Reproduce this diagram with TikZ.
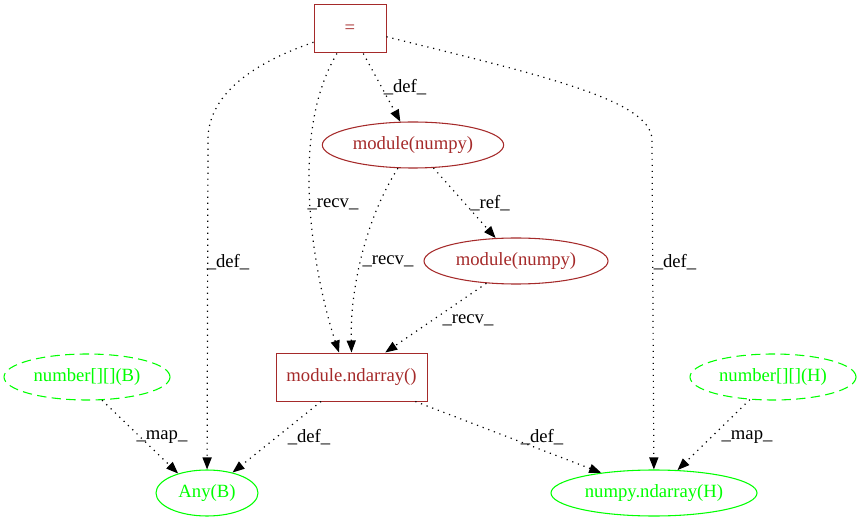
\documentclass[tikz,border=0pt]{standalone}
\usepackage{fontspec}
\setmainfont{Liberation Serif}
\usetikzlibrary{shapes.geometric,arrows.meta}
\definecolor{gvbrown}{HTML}{A52A2A}
\definecolor{gvgreen}{HTML}{00FF00}
\begin{document}
\begin{tikzpicture}[x=0.75pt,y=-0.75pt,
    every node/.style={font=\fontsize{14}{16}\selectfont, inner sep=0pt},
    opbox/.style={rectangle, draw=gvbrown, text=gvbrown, line width=0.75pt, minimum height=36pt},
    modell/.style={ellipse, draw=gvbrown, text=gvbrown, line width=0.8pt, minimum width=136pt, minimum height=34.5pt},
    typell/.style={ellipse, draw=gvgreen, text=gvgreen, line width=0.8pt, minimum height=34.5pt},
    srcell/.style={typell, dash pattern=on 7pt off 4pt, minimum width=124.5pt},
    edge/.style={-{Triangle[length=9pt,width=6.8pt]}, line width=0.9pt, dash pattern=on 0.9pt off 3.6pt},
    lbl/.style={text=black}]
    \useasboundingbox (0,0) rectangle (862,523);
    % nodes
    \node [opbox, minimum width=54pt] (eq) at (350,29) {=};
    \node [modell] (mod1) at (413,145) {module(numpy)};
    \node [modell, minimum width=138pt] (mod2) at (516,261) {module(numpy)};
    \node [opbox, minimum width=113.25pt] (nd) at (351.5,377) {module.ndarray()};
    \node [srcell] (numB) at (87,377) {number[][](B)};
    \node [srcell] (numH) at (773,377) {number[][](H)};
    \node [typell, minimum width=76.5pt] (anyB) at (207,493) {Any(B)};
    \node [typell, minimum width=154.5pt] (npH) at (654,493) {numpy.ndarray(H)};
    % edges
    \draw [edge] (eq.200) .. controls (262,60) and (208,90) .. (208,140) -- (anyB);
    \node [lbl] (ldefB) at (228,262) {\_def\_};
    \draw [edge] (eq.242) .. controls (285,140) and (318,290) .. (nd.117);
    \node [lbl] (lrecv1) at (333,204) {\_recv\_};
    \draw [edge] (eq) -- (mod1);
    \node [lbl] (ldefM) at (405,87) {\_def\_};
    \draw [edge] (eq.348) .. controls (540,75) and (652,100) .. (652,140) -- (npH);
    \node [lbl] (ldefH) at (675,262) {\_def\_};
    \draw [edge] (mod1.237) .. controls (365,220) and (350,290) .. (nd.north);
    \node [lbl] (lrecv2) at (388,261) {\_recv\_};
    \draw [edge] (mod1) -- (mod2);
    \node [lbl] (lref) at (490,203) {\_ref\_};
    \draw [edge] (mod2.217) -- (nd.36);
    \node [lbl] (lrecv3) at (468,320) {\_recv\_};
    \draw [edge] (numB.303) -- (anyB.146);
    \node [lbl] (lmapB) at (162,437) {\_map\_};
    \draw [edge] (nd) -- (anyB);
    \node [lbl] (ldefN) at (309,437) {\_def\_};
    \draw [edge] (nd) -- (npH);
    \node [lbl] (ldefP) at (542,437) {\_def\_};
    \draw [edge] (numH) -- (npH);
    \node [lbl] (lmapH) at (747,437) {\_map\_};
\end{tikzpicture}
\end{document}
